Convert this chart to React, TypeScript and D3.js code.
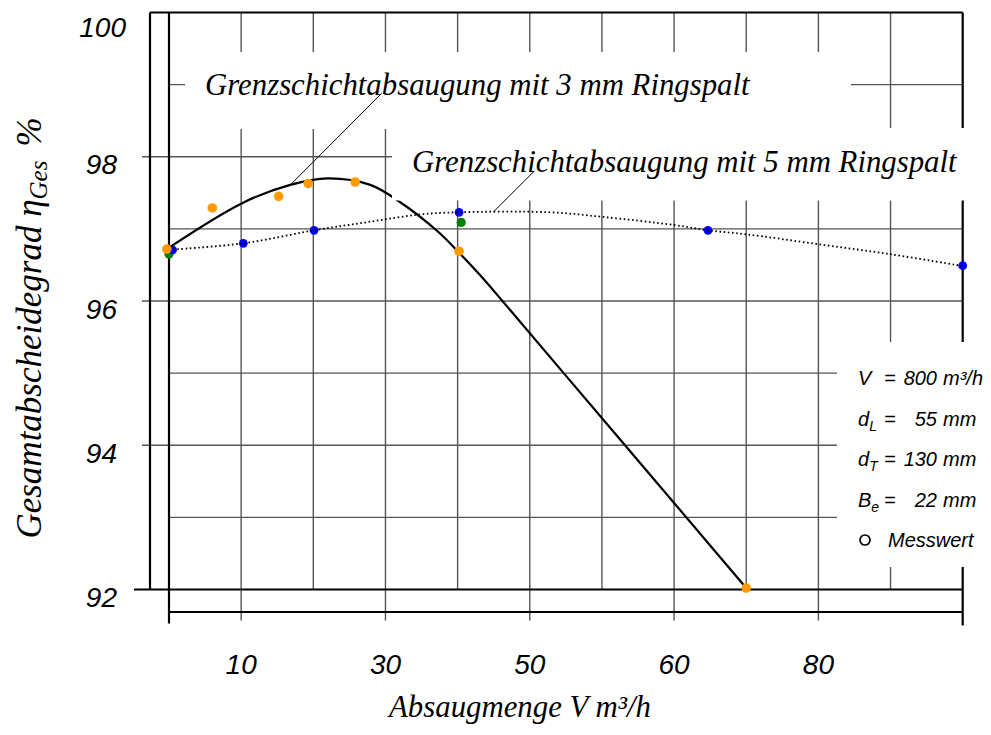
import React from "react";
import * as d3 from "d3";

// ---------- data ----------
const xGridIdx = d3.range(0, 12); // grid columns (index units)
const xTickPos = [1, 3, 5, 7, 9];
const xTickLabels = ["10", "30", "50", "60", "80"];
const yTicks = [100, 98, 96, 94, 92];
const yGrid = [93, 94, 95, 96, 97, 98, 99];

// measured points (x in grid units, y in %)
const orangeX = [-0.03, 0.6, 1.52, 1.93, 2.58, 4.02, 8.0];
const orangeY = [96.72, 97.29, 97.45, 97.63, 97.65, 96.69, 92.02];
const blueX = [0.05, 1.03, 2.01, 4.02, 7.47, 11.0];
const blueY = [96.71, 96.8, 96.98, 97.23, 96.98, 96.49];
const greenX = [0.0, 4.05];
const greenY = [96.65, 97.09];

// fitted curves
const curve3X = [0, 1.02, 1.68, 2.2, 2.79, 3.19, 3.73, 4.01, 4.31, 4.63, 5.47, 7.0, 8.0];
const curve3Y = [96.74, 97.36, 97.61, 97.7, 97.61, 97.38, 96.96, 96.68, 96.36, 95.99, 95.0, 93.2, 92.02];
const curve5X = [0, 1.03, 2.01, 2.79, 3.48, 4.01, 5.28, 6.02, 7.0, 7.47, 8.0, 9.01, 10.01, 11.0];
const curve5Y = [96.71, 96.8, 96.98, 97.1, 97.2, 97.23, 97.23, 97.165, 97.054, 96.98, 96.925, 96.786, 96.647, 96.485];

const label3 = "Grenzschichtabsaugung mit 3 mm Ringspalt";
const label5 = "Grenzschichtabsaugung mit 5 mm Ringspalt";
const legendSym = ["V", "d", "d", "B"];
const legendSub = ["", "L", "T", "e"];
const legendNum = ["800", "55", "130", "22"];
const legendUnit = ["m³/h", "mm", "mm", "mm"];

const W = 991;
const H = 735;

export default function App() {
  const x = d3.scaleLinear().domain([0, 11]).range([169, 962.7]);
  const y = d3.scaleLinear().domain([92, 100]).range([589.5, 12.5]);
  const left = x(0);
  const right = x(11);
  const top = y(100);
  const bottom = y(92);

  const line = d3
    .line<[number, number]>()
    .x((d) => x(d[0]))
    .y((d) => y(d[1]))
    .curve(d3.curveCatmullRom.alpha(0.5));

  const c3 = curve3X.map((v, i) => [v, curve3Y[i]] as [number, number]);
  const c5 = curve5X.map((v, i) => [v, curve5Y[i]] as [number, number]);

  const sans = "'Liberation Sans', Arial, sans-serif";
  const serif = "'Liberation Serif', 'Times New Roman', serif";
  const gridColor = "#555";

  return (
    <svg
      width={W}
      height={H}
      style={{ position: "absolute", left: 0, top: 0, background: "#fff" }}
    >
      <rect x={0} y={0} width={W} height={H} fill="#fff" />
      {/* horizontal grid */}
      {yGrid.map((v) => (
        <line
          key={"h" + v}
          x1={v % 2 === 0 ? left - 27 : left}
          x2={right}
          y1={y(v)}
          y2={y(v)}
          stroke={gridColor}
          strokeWidth={1.4}
        />
      ))}
      {/* vertical grid */}
      {xGridIdx.slice(1, 11).map((i) => (
        <line
          key={"v" + i}
          x1={x(i)}
          x2={x(i)}
          y1={top}
          y2={xTickPos.includes(i) ? bottom + 31 : bottom}
          stroke={gridColor}
          strokeWidth={1.4}
        />
      ))}
      {/* frame */}
      <g stroke="#000" strokeWidth={2.2} fill="none">
        <line x1={150} x2={right} y1={top} y2={top} />
        <line x1={150} x2={150} y1={top} y2={bottom} />
        <line x1={left - 35} x2={right} y1={bottom} y2={bottom} />
        <line x1={left} x2={right} y1={bottom + 22.5} y2={bottom + 22.5} />
        <line x1={left} x2={left} y1={top} y2={bottom + 34} />
        <line x1={right} x2={right} y1={top} y2={bottom + 36} />
      </g>

      {/* green & blue points */}
      {greenX.map((v, i) => (
        <circle key={"g" + i} cx={x(v)} cy={y(greenY[i])} r={4.6} fill="#008000" />
      ))}
      {blueX.map((v, i) => (
        <circle key={"b" + i} cx={x(v)} cy={y(blueY[i])} r={4.4} fill="#0000ff" />
      ))}

      {/* curves */}
      <path d={line(c5) || ""} fill="none" stroke="#000" strokeWidth={1.8} strokeDasharray="1.6 2.6" />
      <path d={line(c3) || ""} fill="none" stroke="#000" strokeWidth={2.2} />

      {/* orange points */}
      {orangeX.map((v, i) => (
        <circle key={"o" + i} cx={x(v)} cy={y(orangeY[i])} r={4.8} fill="#ff9900" />
      ))}

      {/* white label boxes */}
      <rect x={185} y={52} width={666} height={77} fill="#fff" />
      <rect x={392} y={128} width={W - 392} height={72.5} fill="#fff" />
      <rect x={837} y={342} width={W - 837} height={225} fill="#fff" />

      {/* leaders */}
      <line x1={x(2.948)} y1={y(98.88)} x2={x(1.69)} y2={y(97.618)} stroke="#000" strokeWidth={1} />
      <line x1={x(5.063)} y1={y(97.802)} x2={x(4.495)} y2={y(97.234)} stroke="#000" strokeWidth={1} />

      {/* label texts */}
      <text x={205} y={95} fontFamily={serif} fontStyle="italic" fontSize={30.8} fill="#000">
        {label3}
      </text>
      <text x={412} y={171.5} fontFamily={serif} fontStyle="italic" fontSize={30.8} fill="#000">
        {label5}
      </text>

      {/* y tick labels */}
      {yTicks.map((v, i) => (
        <text
          key={"yt" + v}
          x={i === 0 ? 126 : 117}
          y={y(v) + (i === 0 ? 24 : 17.5)}
          textAnchor="end"
          fontFamily={sans}
          fontStyle="italic"
          fontSize={28}
          fill="#000"
        >
          {v}
        </text>
      ))}

      {/* x tick labels */}
      {xTickPos.map((p, i) => (
        <text
          key={"xt" + p}
          x={x(p)}
          y={674}
          textAnchor="middle"
          fontFamily={sans}
          fontStyle="italic"
          fontSize={28}
          fill="#000"
        >
          {xTickLabels[i]}
        </text>
      ))}

      {/* axis titles */}
      <text
        x={520}
        y={716.7}
        textAnchor="middle"
        fontFamily={serif}
        fontStyle="italic"
        fontSize={30.8}
        fill="#000"
      >
        Absaugmenge V m³/h
      </text>
      <text
        transform="translate(41,328) rotate(-90)"
        textAnchor="middle"
        fontFamily={serif}
        fontStyle="italic"
        fontSize={35}
        fill="#000"
      >
        Gesamtabscheidegrad η
        <tspan fontSize={25} dy={6}>Ges</tspan>
        <tspan dy={-6} dx={14}>%</tspan>
      </text>

      {/* legend */}
      {legendSym.map((s, i) => {
        const by = 385 + i * 40.5;
        return (
          <g key={"lg" + i} fontFamily={sans} fontStyle="italic" fontSize={20} fill="#000">
            <text x={858} y={by}>
              {s}
              {legendSub[i] && (
                <tspan fontSize={14} dy={5}>
                  {legendSub[i]}
                </tspan>
              )}
            </text>
            <text x={884} y={by}>=</text>
            <text x={937} y={by} textAnchor="end">
              {legendNum[i]}
            </text>
            <text x={943} y={by}>{legendUnit[i]}</text>
          </g>
        );
      })}
      <circle cx={865} cy={540} r={5} fill="none" stroke="#000" strokeWidth={1.7} />
      <text x={888} y={547} fontFamily={sans} fontStyle="italic" fontSize={20} fill="#000">
        Messwert
      </text>
    </svg>
  );
}
